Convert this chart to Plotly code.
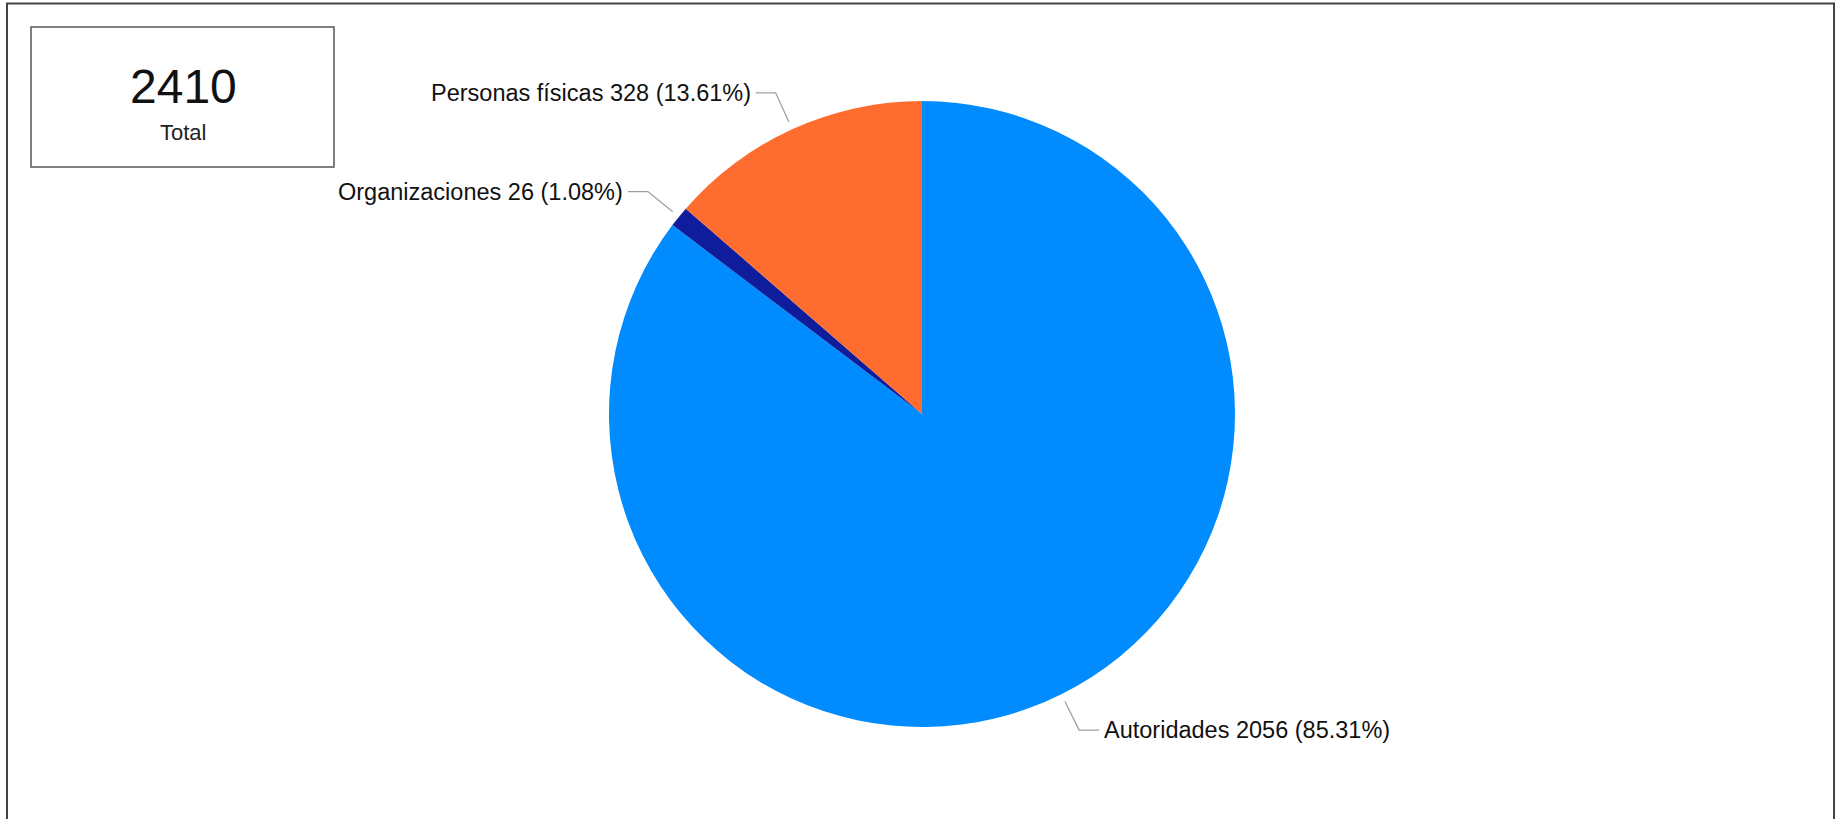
import math
import plotly.graph_objects as go

# ---- data (clockwise from 12 o'clock) ----
labels = ["Autoridades", "Organizaciones", "Personas físicas"]
values = [2056, 26, 328]
colors = ["#008CFF", "#0F1C9C", "#FF6C2F"]
total_caption = "Total"

# ---- layout geometry (pixels) ----
W, H = 1839, 819
CX, CY, R = 922, 414, 313
FONT = "Liberation Sans, Arial, sans-serif"


def px(x):
    return x / W


def py(y):
    return 1 - y / H


total = sum(values)

fig = go.Figure(
    go.Pie(
        labels=labels,
        values=values,
        sort=False,
        direction="clockwise",
        rotation=0,
        marker=dict(colors=colors, line=dict(width=0)),
        textinfo="none",
        hoverinfo="label+value+percent",
        showlegend=False,
        domain=dict(x=[px(CX - R), px(CX + R)], y=[py(CY + R), py(CY - R)]),
    )
)

shapes = []
annotations = []

# leader lines + labels, derived from the slice angles (clockwise from top)
cum = 0.0
for lab, val in zip(labels, values):
    frac = val / total
    mid = (cum + frac / 2) * 2 * math.pi
    cum += frac
    dx, dy = math.sin(mid), -math.cos(mid)
    x1, y1 = CX + (R + 8) * dx, CY + (R + 8) * dy
    x2, y2 = CX + (R + 40) * dx, CY + (R + 40) * dy
    side = -1 if dx < 0 else 1
    x3 = x2 + side * 20
    shapes.append(dict(
        type="path", xref="paper", yref="paper",
        path=f"M {px(x1)},{py(y1)} L {px(x2)},{py(y2)} L {px(x3)},{py(y2)}",
        line=dict(color="#a0a0a0", width=1.3),
    ))
    pct = 100 * val / total
    annotations.append(dict(
        xref="paper", yref="paper", x=px(x3 + side * 3), y=py(y2),
        xanchor="right" if side < 0 else "left", yanchor="middle",
        text=f"{lab} {val} ({pct:.2f}%)", showarrow=False,
        font=dict(family=FONT, size=23.5, color="#111111"),
    ))

# outer frame
shapes.append(dict(
    type="rect", xref="paper", yref="paper",
    x0=px(7), x1=px(1834), y0=-0.05, y1=py(3.5),
    line=dict(color="#444444", width=2), fillcolor="rgba(0,0,0,0)",
))
# total box
shapes.append(dict(
    type="rect", xref="paper", yref="paper",
    x0=px(31), x1=px(334), y0=py(167), y1=py(27),
    line=dict(color="#555555", width=1.5), fillcolor="rgba(0,0,0,0)",
))
annotations.append(dict(
    xref="paper", yref="paper", x=px(183), y=py(87),
    xanchor="center", yanchor="middle", text=str(total), showarrow=False,
    font=dict(family=FONT, size=48, color="#111111"),
))
annotations.append(dict(
    xref="paper", yref="paper", x=px(183), y=py(133),
    xanchor="center", yanchor="middle", text=total_caption, showarrow=False,
    font=dict(family=FONT, size=22, color="#222222"),
))

fig.update_layout(
    width=W, height=H,
    margin=dict(l=0, r=0, t=0, b=0),
    paper_bgcolor="white", plot_bgcolor="white",
    shapes=shapes, annotations=annotations,
    font=dict(family=FONT),
)

fig.write_html(
    "out.html",
    config={"displayModeBar": False},
    post_script="document.body.style.margin='0';document.body.style.overflow='hidden';",
)
